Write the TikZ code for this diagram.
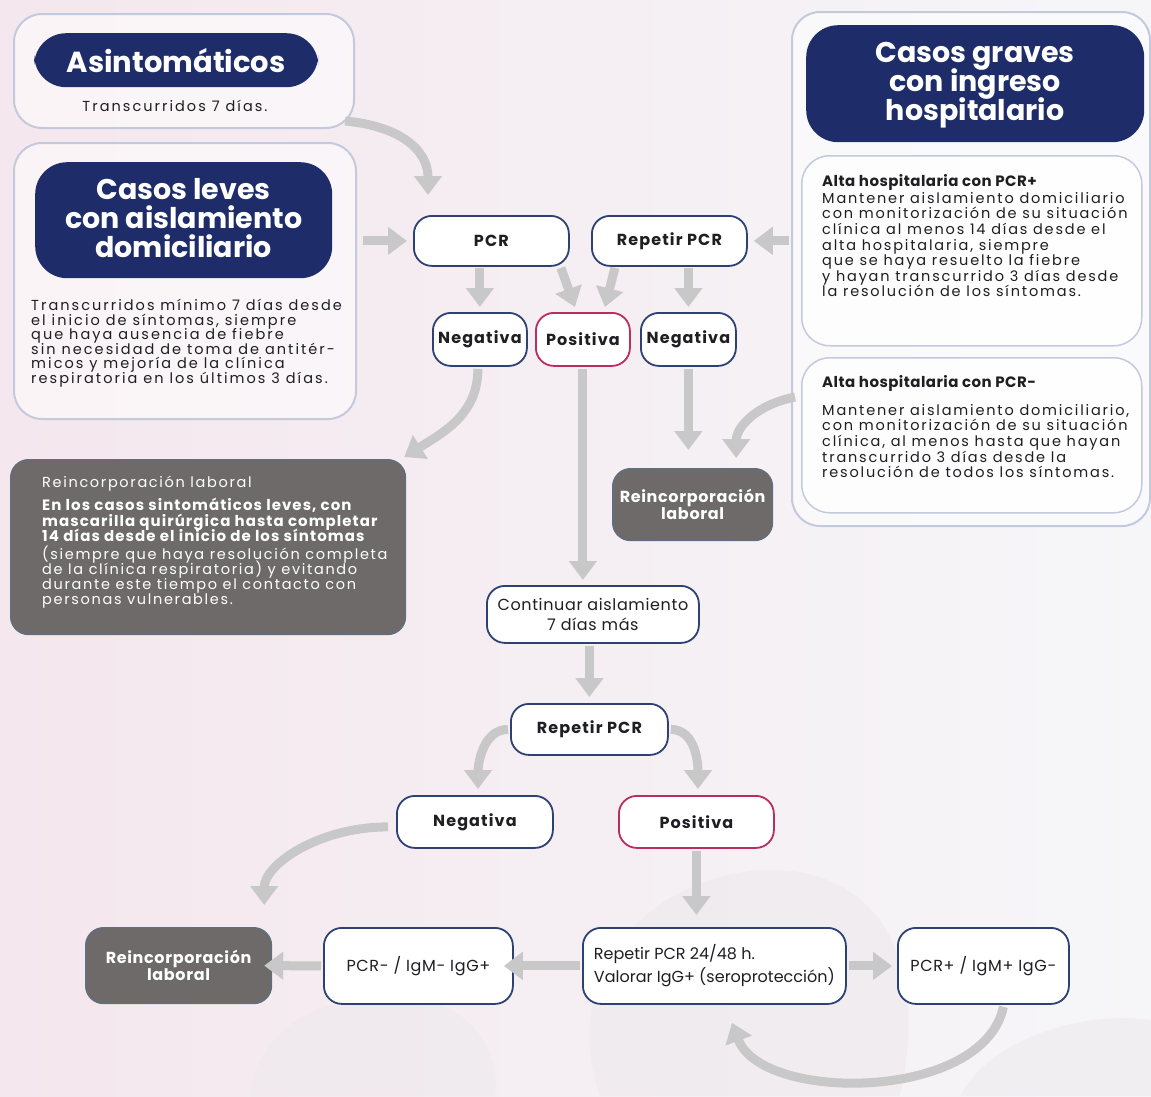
\documentclass[tikz,border=0pt]{standalone}
\usepackage{fontspec}
\setmainfont{Poppins}
\usetikzlibrary{arrows.meta,shapes.misc}
\definecolor{navy}{RGB}{30,45,105}
\definecolor{nodec}{RGB}{45,65,115}
\definecolor{crimson}{RGB}{185,45,95}
\definecolor{grayc}{RGB}{110,106,106}
\definecolor{grayedge}{RGB}{95,110,130}
\definecolor{arrowc}{RGB}{200,200,200}
\definecolor{outerc}{RGB}{195,202,222}
\definecolor{textc}{RGB}{30,30,35}
\definecolor{bgpink}{RGB}{244,231,237}
\definecolor{bgright}{RGB}{246,246,249}
\definecolor{blobc}{RGB}{238,234,237}
\lineskiplimit=-100pt
\newcommand{\bodyfont}{\fontsize{14.5}{14.6}\selectfont\addfontfeatures{LetterSpace=14}}
\newcommand{\bodyfontR}{\fontsize{14.5}{15.6}\selectfont\addfontfeatures{LetterSpace=12.5}}
\newcommand{\grayfont}{\fontsize{14.5}{14.8}\selectfont\addfontfeatures{LetterSpace=11.5}}
\newcommand{\titlefont}{\bfseries\fontsize{15}{15.6}\selectfont\addfontfeatures{LetterSpace=3}}
\newcommand{\graybold}{\bfseries\fontsize{15}{15.5}\selectfont\addfontfeatures{LetterSpace=7}}
\newcommand{\flowbold}{\bfseries\fontsize{16}{17}\selectfont\addfontfeatures{LetterSpace=7}}
\newcommand{\flowplain}{\fontsize{16}{20}\selectfont\addfontfeatures{LetterSpace=4}}
\newcommand{\smallgray}{\bfseries\fontsize{16}{17}\selectfont\addfontfeatures{LetterSpace=4}}
\begin{document}
\begin{tikzpicture}[x=1pt,y=-1pt,
  garrow/.style={draw=arrowc, line width=9pt, -{Triangle[width=27pt,length=19pt]}},
  outerbox/.style={draw=outerc, line width=2pt, rounded corners=28pt, fill=white, fill opacity=0.55, anchor=north west, inner sep=0pt},
  subbox/.style={draw=outerc, line width=1.5pt, rounded corners=28pt, fill=white, fill opacity=0.8, anchor=north west, inner sep=0pt},
  pill/.style={fill=navy, rounded corners=32pt, text=white, font=\bfseries\fontsize{29}{30}\selectfont, align=center, anchor=north west, inner sep=0pt},
  pilltext/.style={text=white, font=\bfseries\fontsize{28.5}{29}\selectfont, align=center, inner sep=0pt},
  flow/.style={draw=nodec, line width=1.8pt, fill=white, rounded corners=18pt, text=textc, font=\flowbold, align=center, anchor=north west, inner sep=0pt},
  posflow/.style={flow, draw=crimson},
  plainflow/.style={flow, font=\flowplain},
  graybox/.style={fill=grayc, draw=grayedge, line width=1.2pt, rounded corners=18pt, text=white, font=\smallgray, align=center, anchor=north west, inner sep=0pt},
  body/.style={font=\bodyfont, text=textc, align=left, anchor=north west, inner sep=0pt},
  bodyr/.style={body, font=\bodyfontR},
  bodyb/.style={body, font=\titlefont}
]
% background
\useasboundingbox (0,0) rectangle (1151,1096);
\shade[left color=bgpink, right color=bgright] (0,0) rectangle (1151,1096);
\fill[blobc, opacity=0.7] (600,1096) .. controls (560,980) and (640,880) .. (760,870) .. controls (880,865) and (930,960) .. (900,1096) -- cycle;
\fill[blobc, opacity=0.6] (250,1096) .. controls (260,1020) and (330,990) .. (420,1000) .. controls (480,1010) and (500,1060) .. (495,1096) -- cycle;
\fill[blobc, opacity=0.6] (960,1096) .. controls (990,1040) and (1080,1010) .. (1151,1020) -- (1151,1096) -- cycle;

% left column
\node[outerbox, minimum width=340pt, minimum height=114pt] (asbox) at (13,13) {};
\node[pill, minimum width=284pt, minimum height=54pt] (aspill) at (34,33) {Asintomáticos};
\node[body, anchor=center] (astext) at (175,106) {Transcurridos 7 días.};

\node[outerbox, minimum width=342pt, minimum height=276pt] (lvbox) at (13,142) {};
\node[pill, minimum width=297pt, minimum height=116pt] (lvpill) at (35,162) {};
\node[pilltext] (lvpilltext) at ([yshift=2pt]lvpill.center) {Casos leves\\con aislamiento\\domiciliario};
\node[body] (lvtext) at (31,299) {Transcurridos mínimo 7 días desde\\el inicio de síntomas, siempre\\que haya ausencia de fiebre\\sin necesidad de toma de antitér-\\micos y mejoría de la clínica\\respiratoria en los últimos 3 días.};

% right column
\node[outerbox, minimum width=358pt, minimum height=514pt] (grbox) at (791,11) {};
\node[pill, minimum width=338pt, minimum height=117pt] (grpill) at (806,25) {};
\node[pilltext] (grpilltext) at ([yshift=-1pt]grpill.center) {Casos graves\\con ingreso\\hospitalario};
\node[subbox, minimum width=340pt, minimum height=190pt] (gr1box) at (801,155) {};
\node[bodyb] (gr1title) at (822,174) {Alta hospitalaria con PCR+};
\node[bodyr] (gr1text) at (822,192) {Mantener aislamiento domiciliario\\con monitorización de su situación\\clínica al menos 14 días desde el\\alta hospitalaria, siempre\\que se haya resuelto la fiebre\\y hayan transcurrido 3 días desde\\la resolución de los síntomas.};
\node[subbox, minimum width=340pt, minimum height=155pt] (gr2box) at (801,357) {};
\node[bodyb] (gr2title) at (822,375) {Alta hospitalaria con PCR-};
\node[bodyr] (gr2text) at (822,404) {Mantener aislamiento domiciliario,\\con monitorización de su situación\\clínica, al menos hasta que hayan\\transcurrido 3 días desde la\\resolución de todos los síntomas.};

% centre flow
\node[flow, minimum width=155pt, minimum height=50pt] (pcr) at (413,215) {PCR};
\node[flow, minimum width=155pt, minimum height=50pt] (rpcr) at (591,215) {Repetir PCR};
\node[flow, minimum width=94pt, minimum height=53pt] (neg1) at (432,312) {Negativa};
\node[posflow, minimum width=94pt, minimum height=53pt] (pos1) at (535,312) {Positiva};
\node[flow, minimum width=95pt, minimum height=53pt] (neg2) at (640,312) {Negativa};

\node[graybox, minimum width=395pt, minimum height=175pt] (reinc1) at (10,459) {};
\node[body, font=\grayfont, text=white] (reinc1title) at (42,476) {Reincorporación laboral};
\node[body, font=\graybold, text=white] (reinc1bold) at (42,498) {En los casos sintomáticos leves, con\\mascarilla quirúrgica hasta completar\\14 días desde el inicio de los síntomas};
\node[body, font=\grayfont, text=white] (reinc1text) at (42,546) {(siempre que haya resolución completa\\de la clínica respiratoria) y evitando\\durante este tiempo el contacto con\\personas vulnerables.};

\node[graybox, minimum width=160pt, minimum height=72pt] (reinc2) at (612,468) {Reincorporación\\laboral};

\node[plainflow, minimum width=212pt, minimum height=57pt] (cont) at (486,585) {Continuar aislamiento\\7 días más};
\node[flow, minimum width=157pt, minimum height=51pt] (rpcr2) at (510,703) {Repetir PCR};
\node[flow, minimum width=156pt, minimum height=52pt] (neg3) at (396,795) {Negativa};
\node[posflow, minimum width=155pt, minimum height=52pt] (pos3) at (618,795) {Positiva};

% bottom row
\node[graybox, minimum width=186pt, minimum height=76pt] (reinc3) at (85,927) {Reincorporación\\laboral};
\node[plainflow, minimum width=189pt, minimum height=76pt] (igg) at (323,927) {PCR- / IgM- IgG+};
\node[plainflow, minimum width=263pt, minimum height=76pt, align=left, font=\fontsize{16}{23}\selectfont] (rep48) at (582,927) {Repetir PCR 24/48 h.\\Valorar IgG+ (seroprotección)};
\node[plainflow, minimum width=171pt, minimum height=76pt] (igm) at (897,927) {PCR+ / IgM+ IgG-};

% connectors
\draw[garrow] ([shift={(-10,-8)}]asbox.south east) .. controls +(55,5) and +(0,-45) .. ([shift={(15,-20)}]pcr.north west);
\draw[garrow] (lvbox.east |- pcr.west) ++(6,0) -- ([xshift=-6pt]pcr.west);
\draw[garrow] (grbox.west |- rpcr.east) ++(-2,0) -- ([xshift=6pt]rpcr.east);
\draw[garrow] (neg1.north |- pcr.south) ++(0,1) -- ([yshift=5pt]neg1.north);
\draw[garrow] ([shift={(-22,1)}]pos1.north |- pcr.south) -- ([shift={(-8,-5)}]pos1.north);
\draw[garrow] ([shift={(32,1)}]pos1.north |- rpcr.south) -- ([shift={(22,-5)}]pos1.north);
\draw[garrow] (neg2.north |- rpcr.south) ++(0,1) -- ([yshift=5pt]neg2.north);

\draw[garrow] ([shift={(-2,2)}]neg1.south) .. controls +(0,45) and +(40,-25) .. ([shift={(-2,-2)}]reinc1.north east);
\draw[garrow] ([yshift=-2pt]pos1.south) -- ([yshift=5pt]cont.north -| pos1.south);
\draw[garrow] ([yshift=-2pt]neg2.south) -- ([yshift=18pt]reinc2.north -| neg2.south);
\draw[garrow] ([shift={(-6,40)}]gr2box.north west) .. controls +(-40,8) and +(0,-30) .. ([shift={(-37,-10)}]reinc2.north east);

\draw[garrow] ([yshift=-2pt]cont.south -| rpcr2.north) -- ([yshift=6pt]rpcr2.north);
\draw[garrow] ([xshift=-2pt]rpcr2.west) .. controls +(-25,0) and +(0,-25) .. ([shift={(82,-6)}]neg3.north west);
\draw[garrow] ([xshift=2pt]rpcr2.east) .. controls +(25,0) and +(0,-25) .. ([shift={(80,-6)}]pos3.north west);
\draw[garrow] ([shift={(-8,5)}]neg3.west) .. controls +(-70,0) and +(0,-40) .. ([shift={(-8,-22)}]reinc3.north east);
\draw[garrow] ([yshift=-2pt]pos3.south) -- ([yshift=12pt]rep48.north -| pos3.south);

\draw[garrow] ([xshift=-2pt]igg.west) -- ([xshift=-8pt]reinc3.east);
\draw[garrow] ([xshift=-2pt]rep48.west) -- ([xshift=-10pt]igg.east);
\draw[garrow] ([xshift=2pt]rep48.east) -- ([xshift=-5pt]igm.west);
\draw[garrow] ([shift={(20,2)}]igm.south) .. controls +(-20,95) and +(30,80) .. ([shift={(150,18)}]rep48.south west);
\end{tikzpicture}
\end{document}
